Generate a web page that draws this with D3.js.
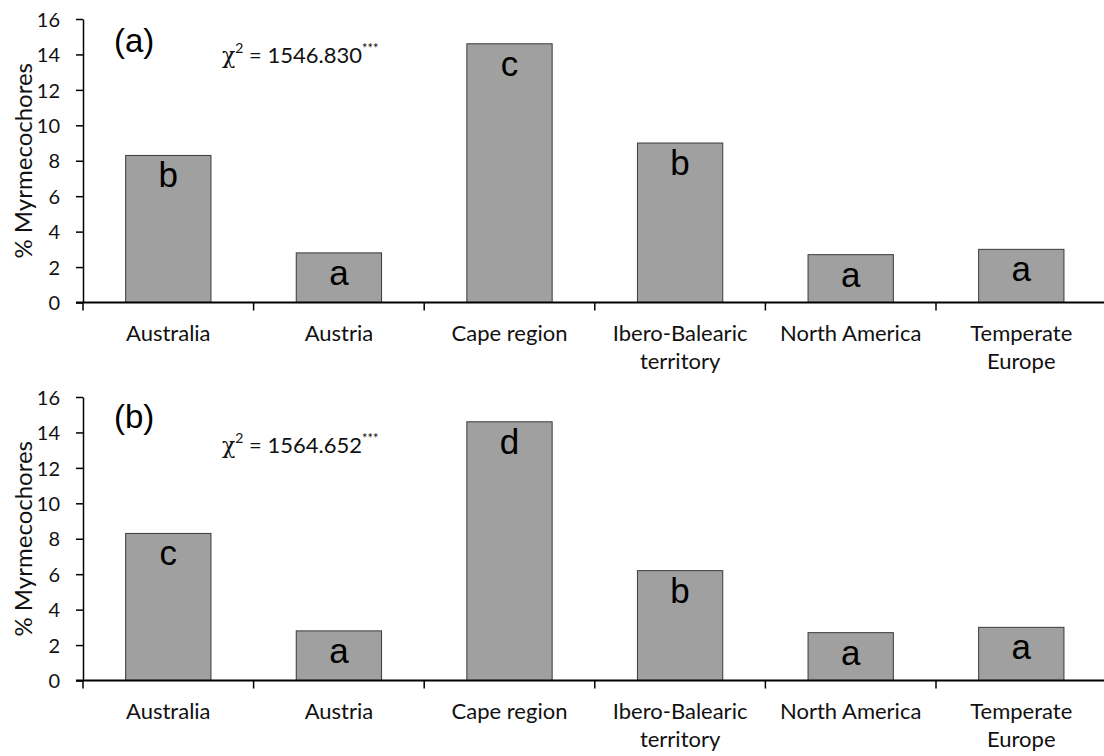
<!DOCTYPE html>
<html>
<head>
<meta charset="utf-8">
<script src="https://cdn.jsdelivr.net/npm/d3@7"></script>
<style>
  body { margin: 0; background: #fff; }
  svg { display: block; }
</style>
</head>
<body>
<div id="chart"></div>
<script>
// data
const categories = ["Australia", "Austria", "Cape region", "Ibero-Balearic territory", "North America", "Temperate Europe"];
const labelLines = [["Australia"], ["Austria"], ["Cape region"], ["Ibero-Balearic", "territory"], ["North America"], ["Temperate", "Europe"]];
const valuesA = [8.3, 2.8, 14.6, 9.0, 2.7, 3.0];
const valuesB = [8.3, 2.8, 14.6, 6.2, 2.7, 3.0];
const lettersA = ["b", "a", "c", "b", "a", "a"];
const lettersB = ["c", "a", "d", "b", "a", "a"];
const yTicks = [0, 2, 4, 6, 8, 10, 12, 14, 16];
const panelTags = ["(a)", "(b)"];
const chiValues = ["1546.830", "1564.652"];

const W = 1104, H = 756;
const left = 83, panelH = 283.5;
const panelTops = [19, 397];
const chiY = [44, 56];
const tagY = [33, 31];

const svg = d3.select("#chart")
  .append("svg")
    .attr("width", W)
    .attr("height", H);

const x = d3.scaleBand()
  .domain(categories)
  .range([left, left + 6 * 170.6])
  .paddingInner(0.5)
  .paddingOuter(0.25);

const y = d3.scaleLinear()
  .domain([0, 16])
  .range([panelH, 0]);

const panels = [
  {values: valuesA, letters: lettersA},
  {values: valuesB, letters: lettersB}
];

panels.forEach((p, i) => {
  const g = svg.append("g")
    .attr("transform", `translate(0, ${panelTops[i]})`);

  const rows = categories.map((c, k) => ({cat: c, value: p.values[k], letter: p.letters[k], lines: labelLines[k]}));

  // bars
  g.selectAll(".bar")
    .data(rows)
    .join("rect")
    .attr("class", "bar")
    .attr("x", d => x(d.cat))
    .attr("y", d => y(d.value))
    .attr("width", x.bandwidth())
    .attr("height", d => y(0) - y(d.value))
    .attr("fill", "#a0a0a0")
    .attr("stroke", "#3a3a3a")
    .attr("stroke-width", 1);

  // significance letters
  g.selectAll(".sig")
    .data(rows)
    .join("text")
    .attr("class", "sig")
    .attr("x", d => x(d.cat) + x.bandwidth() / 2)
    .attr("y", d => y(d.value) + 32)
    .attr("text-anchor", "middle")
    .style("font-family", "'Liberation Sans', Arial, sans-serif")
    .style("font-size", "35px")
    .style("fill", "#000")
    .text(d => d.letter);

  // y axis
  const yAx = g.append("g")
    .attr("transform", `translate(${left}, 0)`)
    .call(d3.axisLeft(y).tickValues(yTicks).tickSize(7).tickSizeOuter(0).tickPadding(16));
  yAx.select(".domain").attr("stroke", "#000").attr("stroke-width", 1.5);
  yAx.selectAll(".tick line").attr("stroke", "#000").attr("stroke-width", 1.5);
  yAx.selectAll(".tick text")
    .style("font-family", "Lato, 'Open Sans', sans-serif")
    .style("font-size", "20px")
    .attr("dy", "0.36em")
    .attr("fill", "#111");

  // x axis line and band ticks
  g.append("line")
    .attr("x1", left - 7)
    .attr("x2", W)
    .attr("y1", y(0))
    .attr("y2", y(0))
    .attr("stroke", "#000")
    .attr("stroke-width", 2);

  const bounds = categories.map(c => x(c) - (x.step() - x.bandwidth()) / 2);
  g.selectAll(".xtick")
    .data(bounds)
    .join("line")
    .attr("class", "xtick")
    .attr("x1", d => d)
    .attr("x2", d => d)
    .attr("y1", y(0))
    .attr("y2", y(0) + 8)
    .attr("stroke", "#000")
    .attr("stroke-width", 1.5);

  // category labels
  const lab = g.selectAll(".xlab")
    .data(rows)
    .join("text")
    .attr("class", "xlab")
    .attr("text-anchor", "middle")
    .style("font-family", "Lato, 'Open Sans', sans-serif")
    .style("font-size", "22px")
    .attr("fill", "#111");
  lab.selectAll("tspan")
    .data(d => d.lines.map(l => ({l, cx: x(d.cat) + x.bandwidth() / 2})))
    .join("tspan")
    .attr("x", d => d.cx)
    .attr("y", (d, k) => y(0) + 38 + k * 28)
    .text(d => d.l);

  // y axis title
  g.append("text")
    .attr("transform", `translate(32, ${panelH / 2}) rotate(-90)`)
    .attr("text-anchor", "middle")
    .style("font-family", "Lato, 'Open Sans', sans-serif")
    .style("font-size", "24px")
    .attr("fill", "#111")
    .text("% Myrmecochores");

  // panel tag
  g.append("text")
    .attr("x", 114)
    .attr("y", tagY[i])
    .style("font-family", "'Liberation Sans', Arial, sans-serif")
    .style("font-size", "33px")
    .attr("fill", "#000")
    .text(panelTags[i]);

  // chi-square
  const chi = g.append("text")
    .attr("x", 222)
    .attr("y", chiY[i])
    .style("font-family", "Lato, 'Open Sans', sans-serif")
    .style("font-size", "22px")
    .attr("fill", "#111");
  chi.append("tspan").style("font-family", "'DejaVu Serif', serif").text("χ");
  chi.append("tspan").attr("dy", -10).style("font-size", "14px").text("2");
  chi.append("tspan").attr("dy", 10).text(" = " + chiValues[i]);
  chi.append("tspan").attr("dy", -10).style("font-size", "13px").text("***");
});
</script>
</body>
</html>
